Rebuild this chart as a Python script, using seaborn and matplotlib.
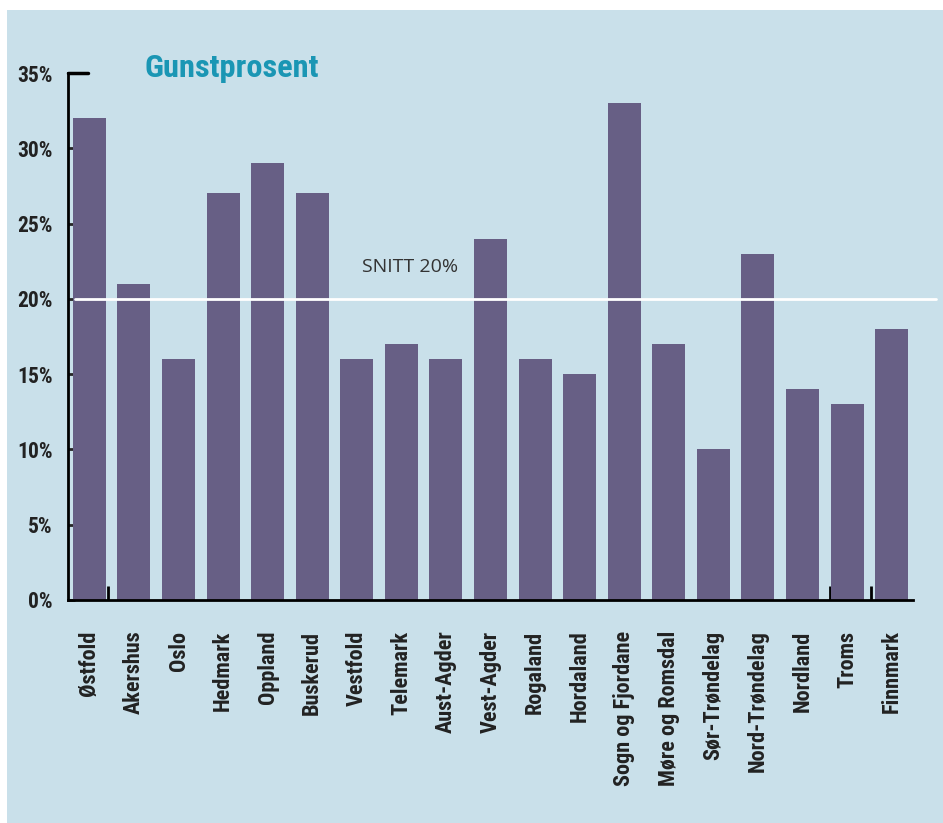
import numpy as np
import pandas as pd
import seaborn as sns
import matplotlib.pyplot as plt

# data
fylker = ["Østfold", "Akershus", "Oslo", "Hedmark", "Oppland", "Buskerud",
          "Vestfold", "Telemark", "Aust-Agder", "Vest-Agder", "Rogaland",
          "Hordaland", "Sogn og Fjordane", "Møre og Romsdal", "Sør-Trøndelag",
          "Nord-Trøndelag", "Nordland", "Troms", "Finnmark"]
gunst = [32, 21, 16, 27, 29, 27, 16, 17, 16, 24, 16, 15, 33, 17, 10, 23, 14, 13, 18]
snitt = 20
y_ticks = [0, 5, 10, 15, 20, 25, 30, 35]
y_labels = ["0%", "5%", "10%", "15%", "20%", "25%", "30%", "35%"]

bg = "#C9E0EA"
bar_col = "#675F85"
narrow = ["Roboto Condensed", "DejaVu Sans"]

sns.set_style("ticks")
plt.rcParams["font.family"] = narrow

df = pd.DataFrame({"fylke": fylker, "gunst": gunst})

fig = plt.figure(figsize=(9.43, 8.23), dpi=100, facecolor="white")
# light blue panel
fig.patches.append(plt.Rectangle((7 / 943, 0), 1, 1 - 10 / 823, transform=fig.transFigure,
                                 facecolor=bg, edgecolor="none", zorder=-10))

ax = fig.add_axes([68 / 943, 1 - 600 / 823, (913 - 68) / 943, (600 - 73) / 823])
ax.patch.set_alpha(0)

sns.barplot(data=df, x="fylke", y="gunst", color=bar_col, saturation=1,
            width=0.74, linewidth=0, ax=ax, zorder=2)

ax.set_xlim(-0.48, len(fylker) - 1 + 0.48)
ax.set_ylim(0, 35)
ax.set_xlabel("")
ax.set_ylabel("")

sns.despine(ax=ax, top=True, right=True)
for s in ["left", "bottom"]:
    ax.spines[s].set_linewidth(2)
    ax.spines[s].set_color("black")

ax.set_yticks(y_ticks)
ax.set_yticklabels(y_labels, fontsize=15.5, fontweight="bold", color="#222222")
ax.tick_params(axis="y", direction="in", length=5, width=2, pad=11)
ax.tick_params(axis="x", length=0, pad=22)
ax.set_xticks(range(len(fylker)))
ax.set_xticklabels(fylker, rotation=90, fontsize=16, fontweight="bold",
                   color="#222222", va="top", ha="center")

# stray minor ticks on the x axis
ax.set_xticks([0.415, 16.62, 17.54], minor=True)
ax.tick_params(axis="x", which="minor", direction="in", length=10, width=2, color="black")

# longer cap at 35%
ax.axhline(35, xmin=0, xmax=20 / 845, color="black", lw=2.5, clip_on=False, zorder=5)

# average line
ax.axhline(snitt, xmin=7 / 845, xmax=(936 - 68) / 845, color="white", lw=2,
           clip_on=False, zorder=3)
ax.text(7.2, snitt + 1.8, f"SNITT {snitt}%", ha="center", va="baseline",
        fontsize=14, family=["Open Sans", "DejaVu Sans"], color="#333333")

fig.text(145 / 943, 1 - 77 / 823, "Gunstprosent", ha="left", va="baseline",
         fontsize=23.3, fontweight="bold", color="#1A96B4")

fig.savefig("out.png", dpi=100, facecolor=fig.get_facecolor())
